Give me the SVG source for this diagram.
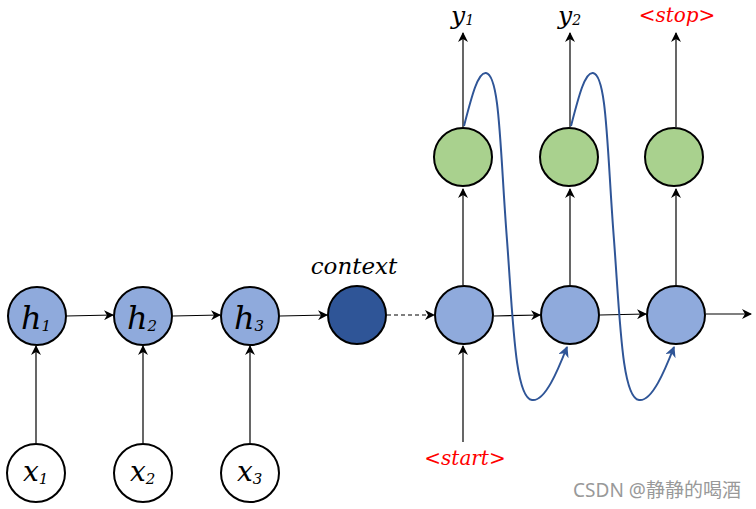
<svg xmlns="http://www.w3.org/2000/svg" width="756" height="509" viewBox="0 0 756 509">
<style>
.n{stroke:#000;stroke-width:2}
.hb{fill:#8FAADC}
.dk{fill:#2F5597}
.gr{fill:#A9D18E}
.wh{fill:#fff}
.c{stroke:#000;stroke-width:1.2;fill:none}
.cv{stroke:#2F5597;stroke-width:2;fill:none}
.t{font-family:"DejaVu Serif","Liberation Serif",serif;font-style:italic;fill:#000}
.r{font-family:"DejaVu Serif","Liberation Serif",serif;font-style:italic;fill:#f00;font-size:20px}
</style>
<defs>
<marker id="a" viewBox="0 0 10 10" refX="9" refY="5" markerWidth="10" markerHeight="10" markerUnits="userSpaceOnUse" orient="auto"><path d="M0,0 L10,5 L0,10 L3,5 Z" fill="#000"/></marker>
<marker id="b" viewBox="0 0 10 10" refX="9" refY="5" markerWidth="11" markerHeight="11" markerUnits="userSpaceOnUse" orient="auto"><path d="M0,0 L10,5 L0,10 L3,5 Z" fill="#2F5597"/></marker>
</defs>
<rect width="756" height="509" fill="#fff"/>
<g id="connectors">
<line class="c" x1="66" y1="316" x2="113" y2="315" marker-end="url(#a)"/>
<line class="c" x1="173" y1="316" x2="220" y2="315" marker-end="url(#a)"/>
<line class="c" x1="280" y1="316" x2="327" y2="315" marker-end="url(#a)"/>
<line class="c" x1="387" y1="315" x2="434" y2="315" stroke-dasharray="4,3" marker-end="url(#a)"/>
<line class="c" x1="494" y1="316" x2="540" y2="315" marker-end="url(#a)"/>
<line class="c" x1="600" y1="315" x2="646" y2="314" marker-end="url(#a)"/>
<line class="c" x1="706" y1="314" x2="751" y2="314" marker-end="url(#a)"/>
<line class="c" x1="36" y1="443" x2="36" y2="346" marker-end="url(#a)"/>
<line class="c" x1="143" y1="443" x2="143" y2="346" marker-end="url(#a)"/>
<line class="c" x1="250" y1="443" x2="250" y2="346" marker-end="url(#a)"/>
<line class="c" x1="463" y1="442" x2="463" y2="346" marker-end="url(#a)"/>
<line class="c" x1="463" y1="285" x2="463" y2="189" marker-end="url(#a)"/>
<line class="c" x1="570" y1="285" x2="570" y2="189" marker-end="url(#a)"/>
<line class="c" x1="676" y1="285" x2="676" y2="189" marker-end="url(#a)"/>
<line class="c" x1="463" y1="127" x2="463" y2="33" marker-end="url(#a)"/>
<line class="c" x1="570" y1="127" x2="570" y2="33" marker-end="url(#a)"/>
<line class="c" x1="676" y1="127" x2="676" y2="33" marker-end="url(#a)"/>
<path class="cv" d="M464,126 C472,95 478,72 486,73 C500,75 500,150 507,240 C513,320 515,398 532,400 C545,402 558,370 567,347" marker-end="url(#b)"/>
<path class="cv" d="M571,126 C579,95 585,72 593,73 C607,75 607,150 614,240 C620,320 622,398 639,400 C652,402 665,370 674,347" marker-end="url(#b)"/>
</g>
<g id="h1"><circle class="n hb" cx="37" cy="316" r="29"/><text class="t" x="21" y="329" font-size="32">h<tspan font-size="15" dy="2">1</tspan></text></g>
<g id="h2"><circle class="n hb" cx="143" cy="316" r="29"/><text class="t" x="127" y="329" font-size="32">h<tspan font-size="15" dy="2">2</tspan></text></g>
<g id="h3"><circle class="n hb" cx="250" cy="316" r="29"/><text class="t" x="234" y="329" font-size="32">h<tspan font-size="15" dy="2">3</tspan></text></g>
<g id="context"><circle class="n dk" cx="357" cy="315" r="29"/><text class="t" x="354" y="274" font-size="23" text-anchor="middle">context</text></g>
<g id="x1"><circle class="n wh" cx="36" cy="473" r="29"/><text class="t" x="23" y="481" font-size="28">x<tspan font-size="15" dy="3">1</tspan></text></g>
<g id="x2"><circle class="n wh" cx="143" cy="473" r="29"/><text class="t" x="130" y="481" font-size="28">x<tspan font-size="15" dy="3">2</tspan></text></g>
<g id="x3"><circle class="n wh" cx="250" cy="473" r="29"/><text class="t" x="237" y="481" font-size="28">x<tspan font-size="15" dy="3">3</tspan></text></g>
<g id="d1"><circle class="n hb" cx="464" cy="315" r="29"/></g>
<g id="d2"><circle class="n hb" cx="570" cy="315" r="29"/></g>
<g id="d3"><circle class="n hb" cx="676" cy="315" r="29"/></g>
<g id="g1"><circle class="n gr" cx="463" cy="157" r="29"/></g>
<g id="g2"><circle class="n gr" cx="569" cy="157" r="29"/></g>
<g id="g3"><circle class="n gr" cx="674" cy="157" r="29"/></g>
<g id="y1"><text class="t" x="451" y="24" font-size="25">y<tspan font-size="14" dy="1">1</tspan></text></g>
<g id="y2"><text class="t" x="558" y="24" font-size="25">y<tspan font-size="14" dy="1">2</tspan></text></g>
<g id="stop"><text class="r" x="677" y="22" text-anchor="middle">&lt;stop&gt;</text></g>
<g id="start"><text class="r" x="465" y="465" text-anchor="middle">&lt;start&gt;</text></g>
<text x="657" y="497" font-family="'Noto Sans','Noto Sans CJK SC',sans-serif" font-size="19" fill="#999" text-anchor="middle">CSDN @静静的喝酒</text>
</svg>
